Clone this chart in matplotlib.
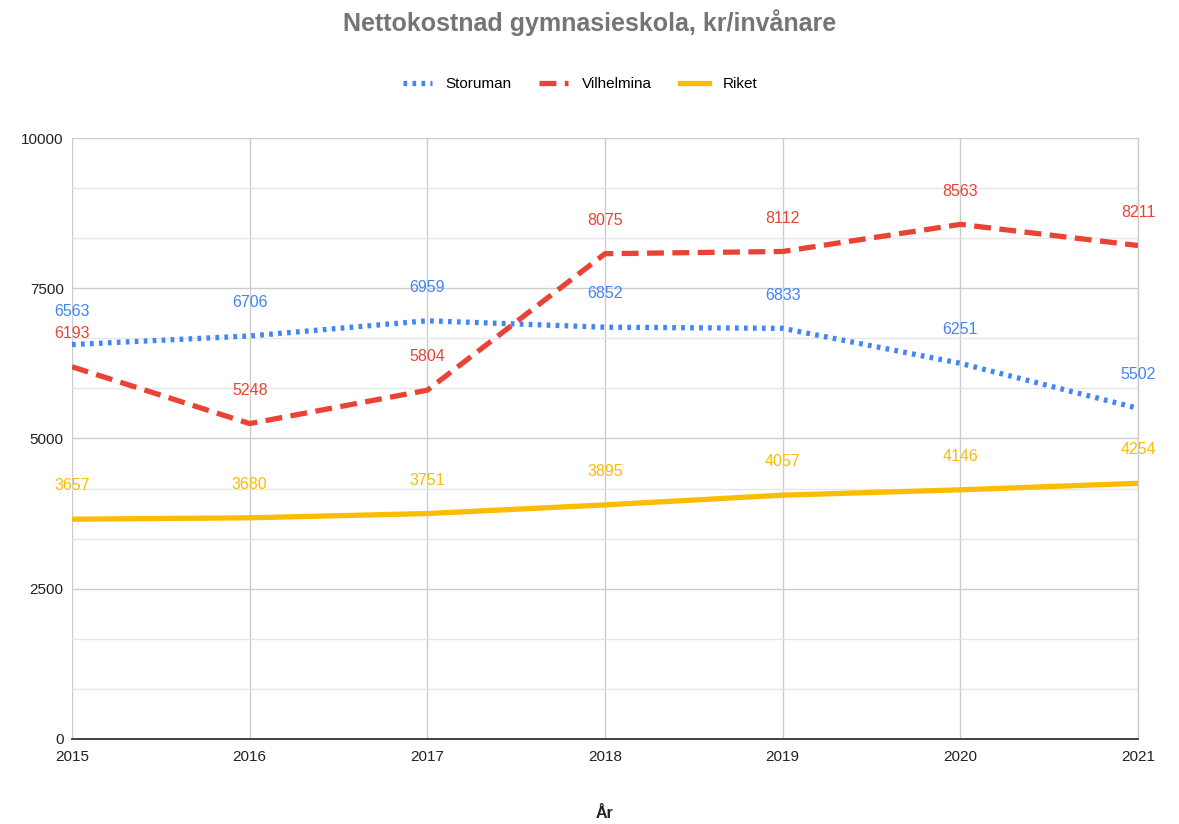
import matplotlib.pyplot as plt
import numpy as np
from matplotlib.ticker import MultipleLocator

plt.rcParams['font.family'] = ['Liberation Sans', 'DejaVu Sans']

years = [2015, 2016, 2017, 2018, 2019, 2020, 2021]
storuman = [6563, 6706, 6959, 6852, 6833, 6251, 5502]
vilhelmina = [6193, 5248, 5804, 8075, 8112, 8563, 8211]
riket = [3657, 3680, 3751, 3895, 4057, 4146, 4254]

blue = '#4285F4'
red = '#EA4335'
yellow = '#FBBC04'

fig = plt.figure(figsize=(11.79, 8.24), dpi=100)
ax = fig.add_axes([0.0611, 0.1032, 0.9041, 0.7293])

ax.plot(years, storuman, color=blue, lw=3.8, linestyle=(0, (0.7, 1.0)), label='Storuman',
        dash_capstyle='butt', zorder=3)
ax.plot(years, vilhelmina, color=red, lw=3.8, linestyle=(0, (3.2, 1.6)), label='Vilhelmina',
        dash_capstyle='butt', zorder=3)
ax.plot(years, riket, color=yellow, lw=3.8, label='Riket', zorder=3)

for series, col in [(storuman, blue), (vilhelmina, red), (riket, yellow)]:
    for x, y in zip(years, series):
        ax.annotate(str(y), (x, y), xytext=(0, 24), textcoords='offset points',
                    ha='center', va='center', color=col, fontsize=11.5)

ax.set_xlim(2015, 2021)
ax.set_ylim(0, 10000)
ax.set_xticks(years)
ax.yaxis.set_major_locator(MultipleLocator(2500))
ax.yaxis.set_minor_locator(MultipleLocator(2500 / 3))
ax.grid(True, which='major', color='#cccccc', lw=1)
ax.grid(True, which='minor', axis='y', color='#e6e6e6', lw=1)
ax.set_axisbelow(True)
for s in ['top', 'left']:
    ax.spines[s].set_visible(False)
ax.spines['right'].set_color('#cccccc')
ax.spines['right'].set_linewidth(1)
ax.spines['bottom'].set_color('#333333')
ax.spines['bottom'].set_linewidth(1.3)
ax.tick_params(axis='both', which='both', length=0, labelsize=11, colors='#222222')
ax.tick_params(axis='x', pad=8)
ax.tick_params(axis='y', pad=6)

fig.text(605 / 1179, 1 - 814 / 824, 'År', ha='center', va='center',
         fontsize=11.5, fontweight='bold', color='#222222')

fig.text(0.5, 0.972, 'Nettokostnad gymnasieskola, kr/invånare', ha='center', va='center',
         fontsize=18, fontweight='bold', color='#757575')
fig.legend(loc='center', bbox_to_anchor=(580 / 1179, 0.898), ncol=3, frameon=False, fontsize=11,
           handlelength=1.9, columnspacing=1.8, handletextpad=0.9)

fig.savefig('out.png', dpi=100)
